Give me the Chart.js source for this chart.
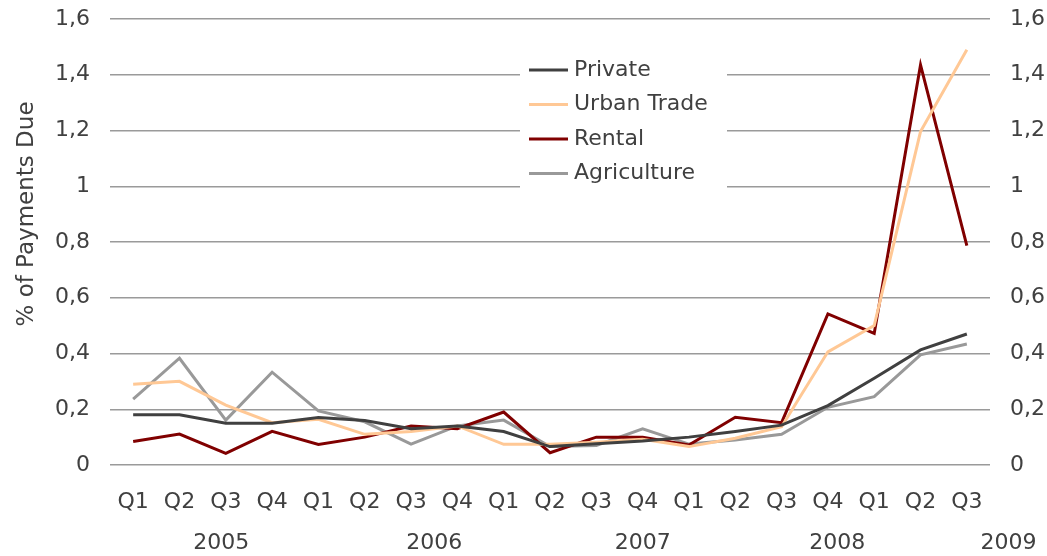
<!DOCTYPE html>
<html lang="en">
<head>
  <meta charset="UTF-8">
  <title>% of Payments Due</title>
  <script src="https://cdn.jsdelivr.net/npm/chart.js"></script>
  <style>
    body, html {
      margin: 0;
      padding: 0;
      background: #fff;
      overflow: hidden;
    }
    #wrap {
      width: 1047px;
      height: 556px;
    }
  </style>
</head>
<body>
  <div id="wrap"><canvas id="chart" width="1047" height="556"></canvas></div>

  <script>
    const quarters = ['Q1', 'Q2', 'Q3', 'Q4', 'Q1', 'Q2', 'Q3', 'Q4', 'Q1', 'Q2',
                      'Q3', 'Q4', 'Q1', 'Q2', 'Q3', 'Q4', 'Q1', 'Q2', 'Q3'];
    const years = ['2005', '2006', '2007', '2008', '2009'];
    // where each year label sits along the quarter axis (category index)
    const yearPos = [1.9, 6.5, 11, 15.2, 18.9];

    const privateVals = [0.18, 0.18, 0.15, 0.15, 0.17, 0.16, 0.13, 0.14, 0.12, 0.066,
                         0.076, 0.086, 0.10, 0.12, 0.143, 0.213, 0.311, 0.413, 0.47];
    const urbanVals   = [0.29, 0.30, 0.215, 0.152, 0.164, 0.11, 0.12, 0.14, 0.074, 0.074,
                         0.082, 0.092, 0.066, 0.096, 0.137, 0.406, 0.50, 1.196, 1.49];
    const rentalVals  = [0.084, 0.111, 0.042, 0.121, 0.074, 0.10, 0.14, 0.13, 0.19, 0.044,
                         0.10, 0.10, 0.072, 0.171, 0.152, 0.542, 0.472, 1.435, 0.787];
    const agriVals    = [0.236, 0.383, 0.161, 0.333, 0.194, 0.155, 0.075, 0.14, 0.161, 0.066,
                         0.07, 0.13, 0.075, 0.09, 0.11, 0.207, 0.245, 0.395, 0.434];

    const seriesNames = ['Private', 'Urban Trade', 'Rental', 'Agriculture'];
    const seriesColors = ['#404040', '#ffc895', '#800000', '#999999'];

    const textColor = '#404040';
    const font = { family: "'DejaVu Sans', Verdana, sans-serif", size: 22 };

    function fmt(v) {
      return (Math.round(v * 10) / 10).toString().replace('.', ',');
    }

    // white legend box sitting inside the plot, over the grid lines
    const legendBox = {
      id: 'legendBox',
      beforeDatasetsDraw(chart) {
        const { ctx, chartArea } = chart;
        const x0 = chartArea.left + 410;
        const y0 = chartArea.top + 31;
        ctx.save();
        ctx.fillStyle = '#fff';
        ctx.fillRect(x0, y0, 207, 146);
        ctx.font = font.size + 'px ' + font.family;
        ctx.textBaseline = 'middle';
        ctx.textAlign = 'left';
        seriesNames.forEach(function (name, i) {
          const y = y0 + 20 + i * 34.5;
          ctx.strokeStyle = seriesColors[i];
          ctx.lineWidth = 3;
          ctx.beginPath();
          ctx.moveTo(x0 + 9, y);
          ctx.lineTo(x0 + 48, y);
          ctx.stroke();
          ctx.fillStyle = textColor;
          ctx.fillText(name, x0 + 54, y);
        });
        ctx.restore();
      }
    };

    // year row under the quarters, plus the rotated y title
    const extraText = {
      id: 'extraText',
      afterDraw(chart) {
        const { ctx } = chart;
        const xs = chart.scales.x;
        ctx.save();
        ctx.font = font.size + 'px ' + font.family;
        ctx.fillStyle = textColor;
        ctx.textAlign = 'center';
        ctx.textBaseline = 'middle';
        years.forEach(function (yr, i) {
          ctx.fillText(yr, xs.getPixelForValue(yearPos[i]), 543);
        });
        ctx.font = '23px ' + font.family;
        ctx.translate(27, 214);
        ctx.rotate(-Math.PI / 2);
        ctx.fillText('% of Payments Due', 0, 0);
        ctx.restore();
      }
    };

    const datasets = [privateVals, urbanVals, rentalVals, agriVals].map(function (vals, i) {
      return {
        label: seriesNames[i],
        data: vals,
        borderColor: seriesColors[i],
        backgroundColor: seriesColors[i],
        borderWidth: 3,
        pointRadius: 0,
        tension: 0,
        yAxisID: 'y'
      };
    });

    const yCommon = {
      min: 0,
      max: 1.6,
      border: { display: false },
      ticks: {
        stepSize: 0.2,
        color: textColor,
        font: font,
        padding: 20,
        callback: fmt
      }
    };

    function fitY(width) {
      return function (scale) {
        scale.width = width;
        scale.paddingTop = 0;
        scale.paddingBottom = 0;
      };
    }

    new Chart(document.getElementById('chart'), {
      type: 'line',
      data: { labels: quarters, datasets: datasets },
      options: {
        responsive: false,
        animation: false,
        devicePixelRatio: 1,
        layout: { padding: { top: 19, left: 0, right: 0, bottom: 0 } },
        plugins: {
          legend: { display: false },
          tooltip: { enabled: false }
        },
        scales: {
          x: {
            offset: true,
            grid: { display: false },
            border: { display: false },
            ticks: {
              color: textColor,
              font: font,
              padding: 16,
              maxRotation: 0,
              autoSkip: false
            },
            afterFit(scale) { scale.height = 91; }
          },
          y: Object.assign({}, yCommon, {
            position: 'left',
            grid: { color: '#9a9a9a', lineWidth: 1.5, drawTicks: false },
            afterFit: fitY(110)
          }),
          y2: Object.assign({}, yCommon, {
            position: 'right',
            grid: { display: false, drawTicks: false },
            afterFit: fitY(57)
          })
        }
      },
      plugins: [legendBox, extraText]
    });
  </script>
</body>
</html>
